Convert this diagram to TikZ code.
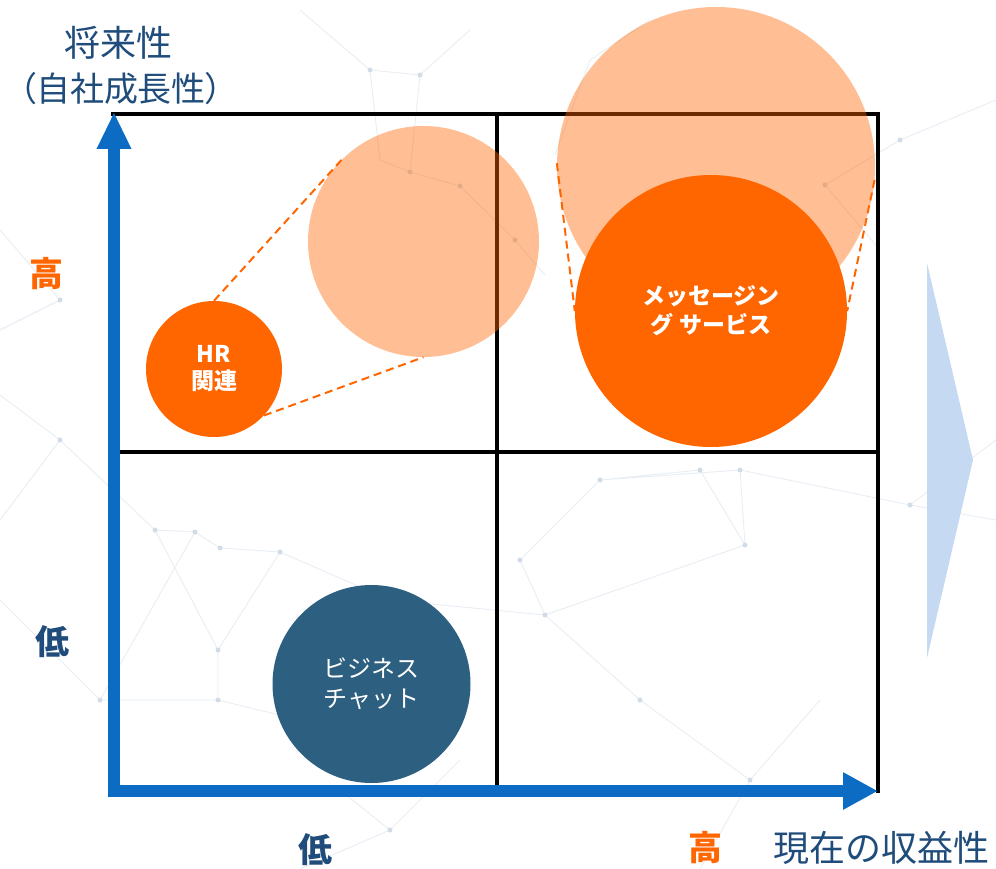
\documentclass[tikz,border=0pt]{standalone}
\usepackage{fontspec}
\setmainfont{Noto Sans CJK JP}
\newfontfamily\jpprop[RawFeature=+palt]{Noto Sans CJK JP}
\usetikzlibrary{arrows.meta}
\definecolor{orng}{RGB}{255,102,0}
\definecolor{axblue}{RGB}{12,108,196}
\definecolor{navy}{RGB}{31,76,122}
\definecolor{chatblue}{RGB}{45,96,128}
\definecolor{chev}{RGB}{197,218,242}
\definecolor{netline}{RGB}{232,238,244}
\definecolor{netdot}{RGB}{210,220,231}
\begin{document}
\begin{tikzpicture}[x=1pt,y=-1pt,
  netl/.style={draw=netline, line width=0.9pt},
  gridline/.style={draw=black, line width=4.5pt, line cap=rect},
  ghost/.style={circle, fill=orng, fill opacity=0.42, inner sep=0pt},
  bubble/.style={circle, inner sep=0pt, align=center, text=white},
  tangent/.style={draw=orng, line width=2pt, dash pattern=on 8pt off 5pt},
  axis/.style={draw=axblue, line width=12pt, line join=miter,
    {Triangle[width=32pt,length=37pt]}-{Triangle[width=35pt,length=35pt]}},
  axlab/.style={font=\fontsize{36}{46}\selectfont, text=navy, align=center, inner sep=0pt},
  levlab/.style={font=\bfseries\fontsize{34}{40}\selectfont, inner sep=0pt}]
\useasboundingbox (0,0) rectangle (996,869);
\fill[white] (0,0) rectangle (996,869);
% faint background network
\draw[netl] (300,10) -- (370,70) -- (420,75) -- (470,30) (420,75) -- (410,172) -- (460,186) -- (515,240) -- (545,275)
  (380,160) -- (410,172) (370,70) -- (380,160) (650,20) -- (590,60) -- (555,155)
  (0,395) -- (60,440) -- (155,530) -- (195,532) -- (220,548) -- (280,552) (60,440) -- (0,520)
  (155,530) -- (218,650) -- (280,552) (218,650) -- (218,700) -- (100,700) -- (0,600) (218,700) -- (300,720)
  (195,532) -- (100,700) (280,552) -- (390,600) -- (545,615) (545,615) -- (520,560) -- (600,480) -- (700,470)
  (700,470) -- (745,545) -- (740,470) -- (910,505) -- (996,520) (745,545) -- (545,615) (600,480) -- (740,470)
  (825,185) -- (900,140) -- (996,100) (825,185) -- (880,250) (910,505) -- (996,440)
  (340,790) -- (390,830) -- (300,869) (390,830) -- (460,760) (750,780) -- (700,869) (750,780) -- (820,700)
  (0,230) -- (60,300) -- (0,330) (545,615) -- (640,700) -- (750,780);
\foreach \p in {(370,70),(420,75),(410,172),(460,186),(515,240),(60,440),(155,530),(195,532),(220,548),
  (280,552),(218,650),(218,700),(100,700),(545,615),(520,560),(600,480),(700,470),(745,545),(740,470),
  (910,505),(825,185),(900,140),(390,830),(750,780),(640,700),(60,300)}
  \fill[netdot] \p circle (2.5pt);
% right chevron
\fill[chev] (927,263) -- (973,460) -- (927,658) -- cycle;
% quadrant frame
\draw[gridline] (113,114) -- (878,114) -- (878,791);
\draw[gridline] (497,114) -- (497,791);
\draw[gridline] (113,452) -- (878,452);
% future-size ghost bubbles
\node[ghost, minimum size=231pt] (hrfut) at (423.5,241.5) {};
\node[ghost, minimum size=318pt] (msgfut) at (716,166) {};
% current bubbles
\node[bubble, fill=orng, minimum size=136pt, font=\bfseries\fontsize{23}{27}\selectfont] (hr) at (214,369) {HR\\関連};
\node[bubble, fill=orng, minimum size=272pt, font=\bfseries\fontsize{23}{29}\selectfont] (msg) at (711,311) {メッセージン\\グ サービス};
\node[bubble, fill=chatblue, minimum size=198pt, font=\fontsize{24}{30}\selectfont] (chat) at (371.5,684) {ビジネス\\チャット};
% growth tangents
\draw[tangent] (hr.90) -- (hrfut.135);
\draw[tangent] (hr.-43) -- (hrfut.-90);
\draw[tangent] (msgfut.179) -- (msg.180);
\draw[tangent] (msgfut.-5) -- (msg.0);
% axes
\coordinate (ytip) at (114,112);
\coordinate (xtip) at (878,791);
\draw[axis] (ytip) |- (xtip);
% labels
\node[axlab] (ylab) at (118,43) {将来性};
\node[axlab, font=\fontsize{34}{46}\selectfont] (ylab2) at (121,89) {{\jpprop （}自社成長性{\jpprop ）}};
\node[axlab] (xlab) at (881,848) {現在の収益性};
\node[levlab, text=orng] (yhigh) at (46,274) {高};
\node[levlab, text=navy] (ylow) at (52,642) {低};
\node[levlab, text=navy] (xlow) at (315,850) {低};
\node[levlab, text=orng] (xhigh) at (705,848) {高};
\end{tikzpicture}
\end{document}
